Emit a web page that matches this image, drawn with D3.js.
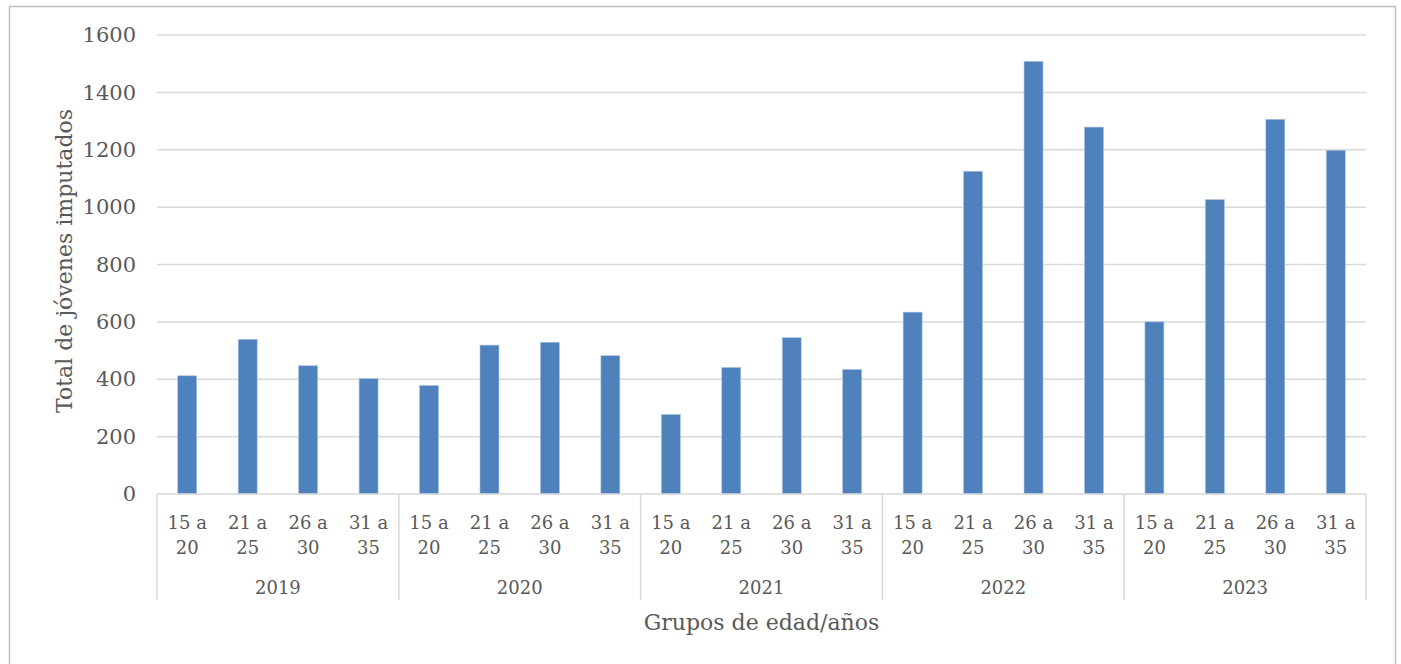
<!DOCTYPE html>
<html>
<head>
<meta charset="utf-8">
<script src="https://cdn.jsdelivr.net/npm/d3@7"></script>
<style>
  body { margin: 0; background: #fff; }
  text { font-family: "DejaVu Serif", "Liberation Serif", serif; fill: #595959; }
</style>
</head>
<body>
<div class="chartHolder"></div>
<script>
// data
const years = ["2019", "2020", "2021", "2022", "2023"];
const ageGroups = [["15 a", "20"], ["21 a", "25"], ["26 a", "30"], ["31 a", "35"]];
const values2019 = [412, 539, 447, 402];
const values2020 = [378, 519, 529, 482];
const values2021 = [277, 441, 545, 434];
const values2022 = [634, 1125, 1508, 1279];
const values2023 = [600, 1026, 1306, 1198];
const yTicks = [0, 200, 400, 600, 800, 1000, 1200, 1400, 1600];

const valuesByYear = [values2019, values2020, values2021, values2022, values2023];

// flatten into one row per bar
const rows = [];
years.forEach((yr, yi) => {
  ageGroups.forEach((g, gi) => {
    rows.push({ key: yr + "-" + gi, year: yr, label: g, value: valuesByYear[yi][gi] });
  });
});

const W = 1401, H = 664;
const margin = { top: 35, right: 35, bottom: 170, left: 157 };
const width = 1366 - margin.left;
const height = 494 - margin.top;

const svg = d3.select(".chartHolder").append("svg")
  .attr("width", W)
  .attr("height", H);

// outer chart frame
svg.append("rect")
  .attr("x", 9.5).attr("y", 6.5)
  .attr("width", 1386).attr("height", 670)
  .attr("fill", "none")
  .attr("stroke", "#bfbfbf")
  .attr("stroke-width", 1.5);

const g = svg.append("g")
  .attr("transform", `translate(${margin.left},${margin.top})`);

const x = d3.scaleBand()
  .domain(rows.map(d => d.key))
  .range([0, width])
  .padding(0);

const y = d3.scaleLinear()
  .domain([0, 1600])
  .range([height, 0]);

// gridlines
g.selectAll("line.grid")
  .data(yTicks.filter(t => t > 0))
  .enter().append("line")
  .attr("class", "grid")
  .attr("x1", 0).attr("x2", width)
  .attr("y1", d => y(d)).attr("y2", d => y(d))
  .attr("stroke", "#d9d9d9")
  .attr("stroke-width", 1.5);

// y axis labels
const yAxis = g.append("g")
  .call(d3.axisLeft(y).tickValues(yTicks).tickSize(0).tickPadding(21).tickFormat(d3.format("d")));
yAxis.select(".domain").remove();
yAxis.selectAll("text")
  .style("font-size", "21px")
  .style("font-family", "DejaVu Serif")
  .attr("fill", "#595959");

// bars
const barW = x.bandwidth() / 3.19;
g.selectAll("rect.bar")
  .data(rows)
  .enter().append("rect")
  .attr("class", "bar")
  .attr("x", d => x(d.key) + (x.bandwidth() - barW) / 2)
  .attr("y", d => y(d.value))
  .attr("width", barW)
  .attr("height", d => height - y(d.value))
  .attr("fill", "#4f81bd")
  .attr("stroke", "#a9c0e0")
  .attr("stroke-width", 0.6);

// x axis baseline
g.append("line")
  .attr("x1", 0).attr("x2", width)
  .attr("y1", height).attr("y2", height)
  .attr("stroke", "#d9d9d9")
  .attr("stroke-width", 1.5);

// year separators
const sepX = years.map((yr, i) => x(yr + "-0")).concat([width]);
g.selectAll("line.sep")
  .data(sepX)
  .enter().append("line")
  .attr("class", "sep")
  .attr("x1", d => d).attr("x2", d => d)
  .attr("y1", height).attr("y2", 600 - margin.top)
  .attr("stroke", "#d9d9d9")
  .attr("stroke-width", 1.5);

// category labels (two lines)
const cat = g.selectAll("text.cat")
  .data(rows)
  .enter().append("text")
  .attr("class", "cat")
  .attr("text-anchor", "middle")
  .style("font-size", "18px");
cat.append("tspan")
  .attr("x", d => x(d.key) + x.bandwidth() / 2)
  .attr("y", 529 - margin.top)
  .text(d => d.label[0]);
cat.append("tspan")
  .attr("x", d => x(d.key) + x.bandwidth() / 2)
  .attr("y", 554 - margin.top)
  .text(d => d.label[1]);

// year labels
g.selectAll("text.year")
  .data(years)
  .enter().append("text")
  .attr("class", "year")
  .attr("text-anchor", "middle")
  .attr("x", (d, i) => (sepX[i] + sepX[i + 1]) / 2)
  .attr("y", 594 - margin.top)
  .style("font-size", "18px")
  .text(d => d);

// axis titles
g.append("text")
  .attr("x", width / 2)
  .attr("y", 630 - margin.top)
  .attr("text-anchor", "middle")
  .style("font-size", "22px")
  .text("Grupos de edad/años");

g.append("text")
  .attr("transform", "rotate(-90)")
  .attr("x", -(261 - margin.top))
  .attr("y", 72 - margin.left)
  .attr("text-anchor", "middle")
  .style("font-size", "22px")
  .text("Total de jóvenes imputados");
</script>
</body>
</html>
